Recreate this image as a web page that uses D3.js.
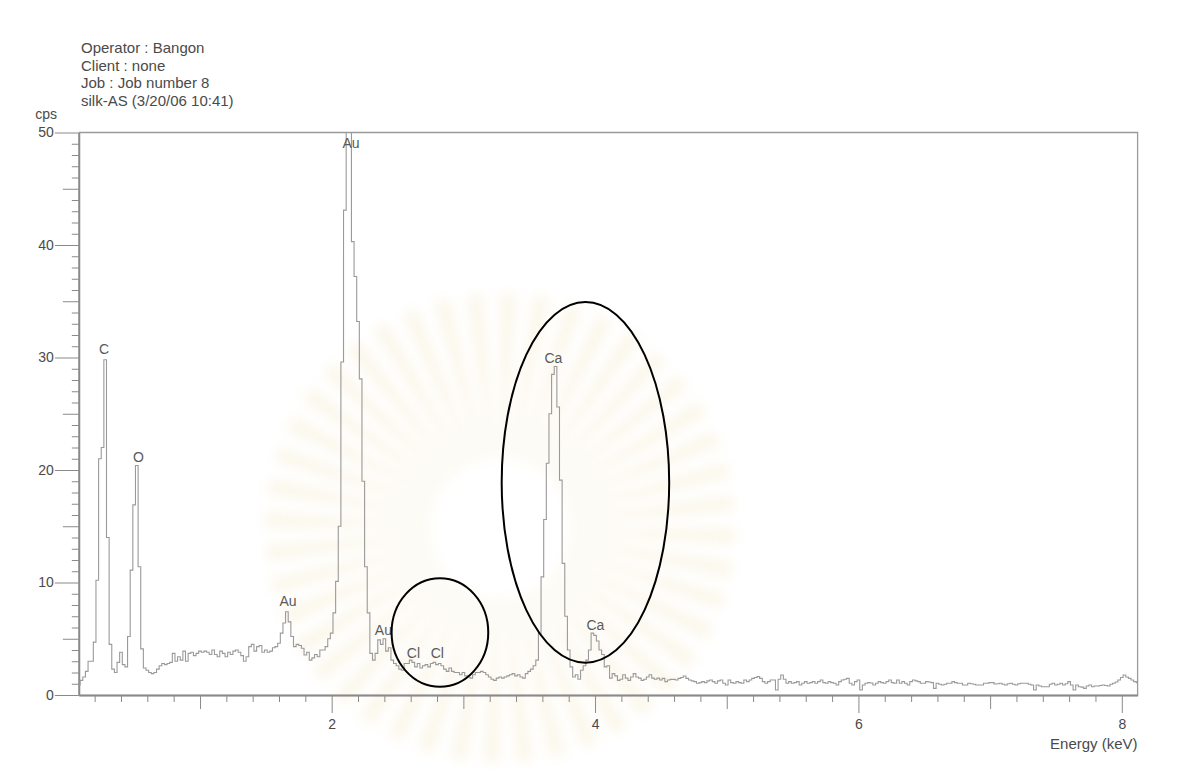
<!DOCTYPE html>
<html>
<head>
<meta charset="utf-8">
<script src="https://cdn.jsdelivr.net/npm/d3@7"></script>
<style>
  html, body { margin: 0; padding: 0; background: #ffffff; }
  svg { display: block; font-family: "Liberation Sans", Arial, sans-serif; }
</style>
</head>
<body>
<svg id="chart" width="1183" height="778"></svg>
<script>
// ---- Spectrum header ----
const headerLines = [
  "Operator : Bangon",
  "Client : none",
  "Job : Job number 8",
  "silk-AS (3/20/06 10:41)"
];

// ---- Channel layout (keV) ----
const channelStart = 0.08;
const channelWidth = 0.02;

// ---- Counts per channel (cps), one value per 20 eV channel from 0.08 keV ----
const counts = [
  0.9, 1.3, 1.6, 2.1, 3.0, 3.0, 4.7, 10.2, 21.0, 22.0,
  29.8, 14.0, 4.5, 2.3, 2.0, 2.9, 3.8, 2.7, 2.5, 5.2,
  11.1, 16.9, 20.4, 11.4, 4.1, 2.4, 2.2, 2.0, 1.9, 2.0,
  2.3, 2.6, 2.8, 2.7, 2.8, 2.9, 3.7, 3.0, 3.4, 3.1,
  3.9, 3.0, 3.7, 3.8, 3.5, 3.7, 3.9, 3.8, 3.9, 3.8,
  3.6, 4.0, 3.6, 3.4, 3.9, 3.7, 3.4, 3.8, 3.6, 3.9,
  4.0, 3.8, 3.5, 3.0, 3.4, 4.3, 4.5, 3.9, 4.3, 4.4,
  3.8, 4.0, 3.8, 3.9, 4.2, 4.3, 4.6, 5.5, 6.4, 7.4,
  6.5, 5.2, 4.3, 4.5, 4.4, 4.15, 3.55, 3.8, 3.1, 3.3,
  3.6, 3.4, 4.0, 4.0, 4.3, 5.0, 5.5, 7.3, 10.1, 15.0,
  29.6, 43.1, 50.0, 50.0, 40.3, 37.2, 33.2, 28.1, 19.0, 11.4,
  7.3, 3.7, 3.1, 3.7, 4.9, 4.5, 5.0, 3.9, 4.2, 3.1,
  2.8, 2.6, 2.3, 2.2, 2.8, 2.8, 3.1, 2.9, 2.5, 2.8,
  2.4, 2.6, 2.7, 2.5, 2.8, 2.9, 2.7, 2.8, 2.6, 2.3,
  2.1, 2.4, 2.1, 2.0, 2.0, 1.8, 2.0, 1.7, 1.6, 1.5,
  1.8, 2.0, 2.0, 2.1, 2.0, 1.8, 1.6, 1.4, 1.3, 1.5,
  1.6, 1.5, 1.6, 1.7, 1.8, 1.9, 1.7, 1.8, 1.6, 1.5,
  1.9, 2.1, 2.3, 2.6, 3.1, 5.5, 10.5, 15.6, 20.6, 25.0,
  28.5, 29.2, 25.6, 19.1, 11.7, 7.0, 4.0, 2.5, 1.6, 1.8,
  1.4, 2.2, 2.6, 3.1, 4.0, 5.5, 5.3, 4.8, 4.0, 3.6,
  2.5, 2.6, 1.5, 1.9, 1.7, 1.3, 1.4, 1.8, 1.5, 1.3,
  1.6, 1.9, 1.6, 1.5, 1.3, 1.4, 1.6, 1.8, 1.5, 1.4,
  1.5, 1.33, 1.48, 1.19, 1.33, 1.39, 1.39, 1.33, 1.48, 1.55,
  1.69, 1.48, 1.33, 1.26, 1.19, 1.04, 1.10, 1.19, 1.10, 1.26,
  1.33, 1.19, 1.04, 1.26, 1.33, 1.04, 0.89, 1.33, 1.10, 1.04,
  1.19, 1.10, 1.04, 1.33, 1.19, 1.33, 1.48, 1.55, 1.63, 1.48,
  1.19, 1.04, 1.19, 1.33, 1.33, 0.44, 1.40, 1.78, 1.40, 1.04,
  1.19, 1.04, 1.10, 1.19, 0.89, 1.04, 1.19, 1.04, 1.10, 1.19,
  1.04, 1.19, 1.33, 1.10, 1.04, 1.19, 1.10, 1.04, 0.89, 1.19,
  1.33, 1.40, 1.48, 1.04, 0.89, 1.19, 1.33, 0.44, 0.89, 1.04,
  1.10, 1.07, 0.89, 1.04, 1.19, 1.10, 1.04, 1.19, 1.33, 1.10,
  1.04, 1.33, 1.04, 1.19, 1.04, 0.89, 1.19, 1.33, 1.26, 1.19,
  1.04, 1.04, 1.19, 1.15, 1.10, 0.59, 1.04, 0.95, 0.89, 0.95,
  1.04, 1.04, 1.19, 1.10, 1.04, 1.04, 0.89, 0.89, 1.04, 1.00,
  0.95, 0.89, 0.89, 0.89, 1.04, 1.04, 1.10, 1.10, 0.98, 1.00,
  1.04, 0.95, 0.89, 1.00, 1.04, 0.95, 0.89, 1.00, 1.04, 1.04,
  1.04, 0.95, 0.89, 0.44, 0.89, 0.80, 0.74, 0.74, 0.74, 0.95,
  1.04, 0.89, 0.95, 1.04, 0.89, 1.00, 1.19, 0.89, 0.44, 0.89,
  0.74, 0.70, 0.59, 0.80, 0.89, 0.74, 0.80, 0.80, 0.85, 0.89,
  0.85, 0.80, 0.95, 1.04, 1.15, 1.33, 1.55, 1.78, 1.60, 1.48,
  1.33, 1.19, 1.10
];

// ---- Axes ----
const energyDomain = [0.08, 8.12];
const cpsDomain = [0, 50];
const energyLabelTicks = [2, 4, 6, 8];
const energyMajorTicks = [1, 2, 3, 4, 5, 6, 7, 8];
const cpsLabelTicks = [0, 10, 20, 30, 40, 50];
const cpsMidTicks = [5, 15, 25, 35, 45];

// ---- Element identifications (label position in keV / cps) ----
const peakNames  = ["C", "O", "Au", "Au", "Au", "Cl", "Cl", "Ca", "Ca"];
const peakEnergy = [0.271, 0.533, 1.668, 2.147, 2.393, 2.621, 2.802, 3.684, 4.003];
const peakLabelCps = [30.8, 21.2, 8.4, 49.1, 5.8, 3.7, 3.7, 30.0, 6.2];

// ---- Highlighted regions (centre keV, centre cps, half-width keV, half-height cps) ----
const regionCenterKeV = [2.822, 3.927];
const regionCenterCps = [5.56, 18.9];
const regionHalfKeV   = [0.367, 0.636];
const regionHalfCps   = [4.82, 16.03];

// ---------------------------------------------------------------
const svg = d3.select("#chart");
const plot = { left: 78.84, right: 1137.6, top: 132.5, bottom: 695 };

const x = d3.scaleLinear().domain(energyDomain).range([plot.left, plot.right]);
const y = d3.scaleLinear().domain(cpsDomain).range([plot.bottom, plot.top]);

// very faint emblem rays printed on the paper background
const defs = svg.append("defs");
defs.append("filter").attr("id", "soft")
  .append("feGaussianBlur").attr("stdDeviation", 6);

const rays = svg.append("g")
  .attr("transform", "translate(500,528)")
  .attr("opacity", 0.16)
  .attr("filter", "url(#soft)");
const rayCount = 44;
const rayArc = d3.arc().innerRadius(70).outerRadius(235);
d3.range(rayCount).forEach(k => {
  const a0 = (k / rayCount) * 2 * Math.PI;
  rays.append("path")
    .attr("d", rayArc({ startAngle: a0, endAngle: a0 + (Math.PI * 2 / rayCount) * 0.5 }))
    .attr("fill", "#e6cf86");
});

// header text
svg.append("g")
  .selectAll("text")
  .data(headerLines)
  .join("text")
  .attr("x", 81)
  .attr("y", (d, i) => 53 + i * 17.6)
  .attr("font-size", 15)
  .attr("fill", "#4a4a4a")
  .text(d => d);

// units label on the count axis
svg.append("text")
  .attr("x", 57).attr("y", 119)
  .attr("text-anchor", "end")
  .attr("font-size", 14)
  .attr("fill", "#4a4a4a")
  .text("cps");

// plot frame (top and right)
svg.append("path")
  .attr("d", `M${plot.left},${plot.top}H${plot.right}V${plot.bottom}`)
  .attr("fill", "none")
  .attr("stroke", "#9a9a9a")
  .attr("stroke-width", 1.3);

// x axis: minor ticks every 0.2 keV, major every 1 keV, labels on even keV
const minorEnergyTicks = d3.range(0.2, 8.01, 0.2).filter(v => Math.abs(v - Math.round(v)) > 1e-6);
const xAxisG = svg.append("g").attr("transform", `translate(0,${plot.bottom})`);
xAxisG.append("g")
  .call(d3.axisBottom(x).tickValues(minorEnergyTicks).tickSize(7).tickFormat("").tickSizeOuter(0));
xAxisG.append("g")
  .call(d3.axisBottom(x).tickValues(energyMajorTicks.filter(v => !energyLabelTicks.includes(v)))
    .tickSize(14).tickFormat("").tickSizeOuter(0));
xAxisG.append("g")
  .call(d3.axisBottom(x).tickValues(energyLabelTicks).tickSize(18).tickPadding(6)
    .tickFormat(d3.format("d")).tickSizeOuter(0));
xAxisG.selectAll(".domain").attr("stroke", "#8a8a8a").attr("stroke-width", 1.5);
xAxisG.selectAll(".tick line").attr("stroke", "#8a8a8a");
xAxisG.selectAll(".tick text").attr("font-size", 14).attr("fill", "#4a4a4a")
  .attr("font-family", "Liberation Sans, Arial, sans-serif");

svg.append("text")
  .attr("x", plot.right).attr("y", 749)
  .attr("text-anchor", "end")
  .attr("font-size", 15)
  .attr("fill", "#4a4a4a")
  .text("Energy (keV)");

// y axis: ticks every 1 cps, longer at 5s, longest at labelled 10s
const minorCpsTicks = d3.range(1, 50, 1).filter(v => v % 5 !== 0);
const yAxisG = svg.append("g").attr("transform", `translate(${plot.left},0)`);
yAxisG.append("g")
  .call(d3.axisLeft(y).tickValues(minorCpsTicks).tickSize(7).tickFormat("").tickSizeOuter(0));
yAxisG.append("g")
  .call(d3.axisLeft(y).tickValues(cpsMidTicks).tickSize(16).tickFormat("").tickSizeOuter(0));
yAxisG.append("g")
  .call(d3.axisLeft(y).tickValues(cpsLabelTicks).tickSize(24).tickPadding(1)
    .tickFormat(d3.format("d")).tickSizeOuter(0));
yAxisG.selectAll(".domain").attr("stroke", "#8a8a8a").attr("stroke-width", 1.5);
yAxisG.selectAll(".tick line").attr("stroke", "#8a8a8a");
yAxisG.selectAll(".tick text").attr("font-size", 14).attr("fill", "#4a4a4a")
  .attr("font-family", "Liberation Sans, Arial, sans-serif");

// spectrum trace
svg.append("clipPath").attr("id", "plot-clip")
  .append("rect")
  .attr("x", plot.left).attr("y", plot.top - 1)
  .attr("width", plot.right - plot.left).attr("height", plot.bottom - plot.top + 1);

const spectrum = counts.map((c, i) => ({ e: channelStart + i * channelWidth, c }));
const line = d3.line()
  .x(d => x(d.e))
  .y(d => y(d.c))
  .curve(d3.curveStep);

svg.append("path")
  .datum(spectrum)
  .attr("clip-path", "url(#plot-clip)")
  .attr("d", line)
  .attr("fill", "none")
  .attr("stroke", "#9a9a9a")
  .attr("stroke-width", 1.1);

// element labels
svg.append("g")
  .selectAll("text")
  .data(peakNames)
  .join("text")
  .attr("x", (d, i) => x(peakEnergy[i]))
  .attr("y", (d, i) => y(peakLabelCps[i]))
  .attr("text-anchor", "middle")
  .attr("dominant-baseline", "central")
  .attr("font-size", 14)
  .attr("fill", "#5a5a5a")
  .text(d => d);

// highlighted regions
svg.append("g")
  .selectAll("ellipse")
  .data(regionCenterKeV)
  .join("ellipse")
  .attr("cx", (d, i) => x(d))
  .attr("cy", (d, i) => y(regionCenterCps[i]))
  .attr("rx", (d, i) => x(d + regionHalfKeV[i]) - x(d))
  .attr("ry", (d, i) => y(0) - y(regionHalfCps[i]))
  .attr("fill", "none")
  .attr("stroke", "#000")
  .attr("stroke-width", 2);
</script>
</body>
</html>
